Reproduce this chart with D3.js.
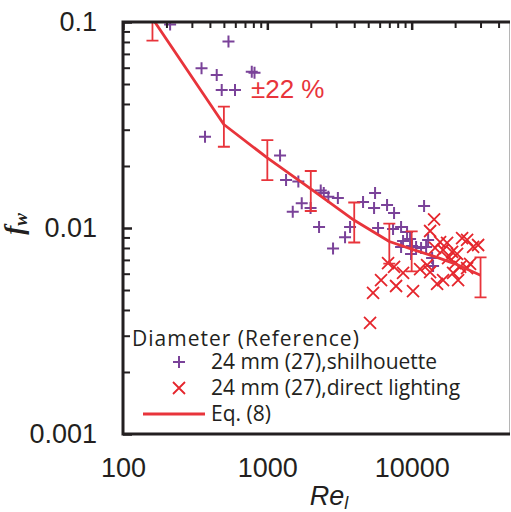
<!DOCTYPE html>
<html>
<head>
<meta charset="utf-8">
<script src="https://cdn.jsdelivr.net/npm/d3@7"></script>
<style>
  html, body { margin: 0; padding: 0; background: #fff; }
  svg { display: block; }
</style>
</head>
<body>
<svg id="chart" width="511" height="512"></svg>
<script>
// Wall friction factor f_w against liquid Reynolds number Re_l (log-log)

// 24 mm (27), shilhouette measurements
const reShil = [212, 538, 350, 446, 780, 815, 483, 597, 370, 1225,
  1348, 1640, 2344, 2460, 2647, 3081, 1731, 1500, 1993, 2282,
  2853, 3455, 3742, 4604, 5577, 5489, 6753, 7551, 12190, 5850,
  7430, 8445, 9290, 9750, 8717, 8445, 10060, 10730, 11620, 12590,
  13000, 9900, 13850, 14070];
const fwShil = [0.0973, 0.0804, 0.0596, 0.0553, 0.0574, 0.0567, 0.0468, 0.0468, 0.0277, 0.0225,
  0.0171, 0.0168, 0.0152, 0.0148, 0.0142, 0.0140, 0.0132, 0.0120, 0.0125, 0.0101,
  0.00795, 0.00901, 0.0101, 0.01337, 0.0148, 0.0125, 0.01293, 0.01183, 0.01279, 0.0100,
  0.00989, 0.0101, 0.00956, 0.00885, 0.00865, 0.00809, 0.00818, 0.00809, 0.00800, 0.00809,
  0.00875, 0.00748, 0.00715, 0.00654];

// 24 mm (27), direct lighting measurements
const reDirect = [14300, 13420, 15740, 17590, 16500, 19060, 20640, 17880, 20000, 21650,
  24210, 25390, 19360, 20970, 16500, 15000, 22360, 24210, 28860, 26650,
  12790, 11440, 13420, 8717, 7551, 6862, 6137, 7797, 10220, 5401,
  5148, 14530];
const fwDirect = [0.0110, 0.00967, 0.00855, 0.00846, 0.00782, 0.00765, 0.00748, 0.00715, 0.00676, 0.00647,
  0.00639, 0.00669, 0.00605, 0.00559, 0.00559, 0.00535, 0.00894, 0.00875, 0.00827, 0.00809,
  0.00661, 0.00632, 0.00611, 0.00605, 0.00647, 0.00676, 0.00559, 0.00523, 0.00494, 0.00484,
  0.00346, 0.00800];

// Eq. (8) correlation
const eqRe = [160, 500, 1000, 2000, 4000, 7000, 10000, 15000, 20000, 30000];
const eqFw = [0.104, 0.0318, 0.0219, 0.0155, 0.0109, 0.0086, 0.0079, 0.0072, 0.0067, 0.0059];

// Error bars on Eq. (8), +/- band in percent
const barRe = [160, 500, 1000, 2000, 4000, 7000, 10000, 30000];
const barFw = [0.104, 0.0318, 0.0219, 0.0155, 0.0109, 0.0086, 0.0079, 0.0059];
const bandPct = 22;

const xTickLabels = ["100", "1000", "10000"];
const yTickLabels = ["0.001", "0.01", "0.1"];

const legendTitle = "Diameter (Reference)";
const legendItems = ["24 mm (27),shilhouette", "24 mm (27),direct lighting", "Eq. (8)"];

const INK = "#231f20";
const PURPLE = "#7a4299";
const RED = "#e5252c";
const LINE_RED = "#e8343b";
const TICK_FONT = "'Liberation Sans', Arial, sans-serif";
const LEGEND_FONT = "'Open Sans', 'Noto Sans', sans-serif";

const svg = d3.select("#chart");
const L = 123, T = 22, R = 510, B = 434;

const x = d3.scaleLog().domain([100, 48000]).range([L, R]);
const y = d3.scaleLog().domain([0.001, 0.1]).range([B, T]);

svg.append("defs").append("clipPath").attr("id", "plot")
  .append("rect").attr("x", L).attr("y", T).attr("width", R - L).attr("height", B - T);

const plot = svg.append("g").attr("clip-path", "url(#plot)");

// shilhouette markers (+)
plot.append("g").selectAll("path").data(reShil.map((r, i) => [r, fwShil[i]]))
  .join("path")
  .attr("transform", d => `translate(${x(d[0])},${y(d[1])})`)
  .attr("d", "M-6,0H6M0,-6V6")
  .attr("stroke", PURPLE).attr("stroke-width", 2).attr("fill", "none");

// direct lighting markers (x)
plot.append("g").selectAll("path").data(reDirect.map((r, i) => [r, fwDirect[i]]))
  .join("path")
  .attr("transform", d => `translate(${x(d[0])},${y(d[1])})`)
  .attr("d", "M-6,-6L6,6M6,-6L-6,6")
  .attr("stroke", RED).attr("stroke-width", 1.8).attr("fill", "none");

// Eq. (8) curve
const line = d3.line().x(d => x(d[0])).y(d => y(d[1]));
plot.append("path")
  .datum(eqRe.map((r, i) => [r, eqFw[i]]))
  .attr("d", line)
  .attr("fill", "none").attr("stroke", LINE_RED).attr("stroke-width", 2.8)
  .attr("stroke-linejoin", "round");

// +/- band error bars
const f = bandPct / 100;
const bars = plot.append("g").attr("stroke", LINE_RED).attr("stroke-width", 1.8).attr("fill", "none");
barRe.forEach((r, i) => {
  const cx = x(r), hi = y(barFw[i] * (1 + f)), lo = y(barFw[i] * (1 - f));
  bars.append("path").attr("d", `M${cx},${hi}V${lo}M${cx - 6},${hi}H${cx + 6}M${cx - 6},${lo}H${cx + 6}`);
});

// band label
svg.append("text").attr("x", x(770)).attr("y", y(0.0428))
  .attr("fill", LINE_RED).attr("font-family", TICK_FONT).attr("font-size", 26)
  .text("\u00b1" + bandPct + " %");

// axes frame: right side is a thin grey edge
svg.append("line").attr("x1", R - 0.5).attr("x2", R - 0.5).attr("y1", T).attr("y2", B)
  .attr("stroke", "#b5b5b5").attr("stroke-width", 1);

const decade = v => Math.abs(Math.log10(v) - Math.round(Math.log10(v))) < 1e-9;

// left axis with inward ticks
const yMinor = y.ticks().filter(v => !decade(v));
const yMajor = y.ticks().filter(decade);
svg.append("g").attr("transform", `translate(${L},0)`)
  .call(d3.axisLeft(y).tickValues(yMinor).tickSize(-7).tickFormat(""))
  .call(g => g.select(".domain").remove())
  .call(g => g.selectAll("line").attr("stroke", INK).attr("stroke-width", 2));
svg.append("g").attr("transform", `translate(${L},0)`)
  .call(d3.axisLeft(y).tickValues(yMajor).tickSize(-9).tickPadding(26)
    .tickFormat((d, i) => yTickLabels[i]))
  .call(g => g.select(".domain").remove())
  .call(g => g.selectAll("line").attr("stroke", INK).attr("stroke-width", 2.5))
  .call(g => g.selectAll("text").attr("fill", INK).attr("font-family", TICK_FONT).attr("font-size", 27));

// top axis with inward ticks
const xMinor = x.ticks().filter(v => !decade(v));
const xMajor = x.ticks().filter(decade);
svg.append("g").attr("transform", `translate(0,${T})`)
  .call(d3.axisTop(x).tickValues(xMinor).tickSize(-6).tickFormat(""))
  .call(g => g.select(".domain").remove())
  .call(g => g.selectAll("line").attr("stroke", INK).attr("stroke-width", 2));
svg.append("g").attr("transform", `translate(0,${T})`)
  .call(d3.axisTop(x).tickValues(xMajor).tickSize(-8).tickFormat(""))
  .call(g => g.select(".domain").remove())
  .call(g => g.selectAll("line").attr("stroke", INK).attr("stroke-width", 2.5));

// bottom axis labels (no tick marks)
svg.append("g").attr("transform", `translate(0,${B})`)
  .call(d3.axisBottom(x).tickValues(xMajor).tickSize(0).tickPadding(24)
    .tickFormat((d, i) => xTickLabels[i]))
  .call(g => g.select(".domain").remove())
  .call(g => g.selectAll("text").attr("fill", INK).attr("font-family", TICK_FONT).attr("font-size", 27));

// thick axis lines: left, top, bottom
svg.append("path")
  .attr("d", `M${R},${T}H${L}V${B}H${R}`)
  .attr("fill", "none").attr("stroke", INK).attr("stroke-width", 3).attr("stroke-linejoin", "miter");

// axis titles
const yl = svg.append("text")
  .attr("transform", "translate(23,224) rotate(-90)")
  .attr("text-anchor", "middle")
  .attr("fill", INK).attr("font-family", "'Liberation Serif', 'Times New Roman', serif")
  .attr("font-style", "italic").attr("font-weight", "bold").attr("font-size", 27);
yl.append("tspan").text("f");
yl.append("tspan").attr("font-size", 19).attr("dy", 4).text("w");

const xl = svg.append("text")
  .attr("x", 329).attr("y", 505)
  .attr("text-anchor", "middle")
  .attr("fill", INK).attr("font-family", TICK_FONT)
  .attr("font-style", "italic").attr("font-size", 27);
xl.append("tspan").text("Re");
xl.append("tspan").attr("font-size", 18).attr("dy", 4).text("l");

// legend
const lg = svg.append("g").attr("font-family", LEGEND_FONT).attr("font-size", 21).attr("fill", INK);
lg.append("text").attr("x", 132).attr("y", 346).attr("letter-spacing", 1).text(legendTitle);
const rowY = [362, 388, 414];
lg.append("path").attr("transform", `translate(179,${rowY[0]})`)
  .attr("d", "M-6,0H6M0,-6V6").attr("stroke", PURPLE).attr("stroke-width", 2);
lg.append("path").attr("transform", `translate(179,${rowY[1]})`)
  .attr("d", "M-6,-6L6,6M6,-6L-6,6").attr("stroke", RED).attr("stroke-width", 1.8);
lg.append("line").attr("x1", 143).attr("x2", 205).attr("y1", rowY[2]).attr("y2", rowY[2])
  .attr("stroke", LINE_RED).attr("stroke-width", 2.8);
legendItems.forEach((t, i) => {
  lg.append("text").attr("x", 211).attr("y", rowY[i] + 7).text(t);
});
</script>
</body>
</html>
